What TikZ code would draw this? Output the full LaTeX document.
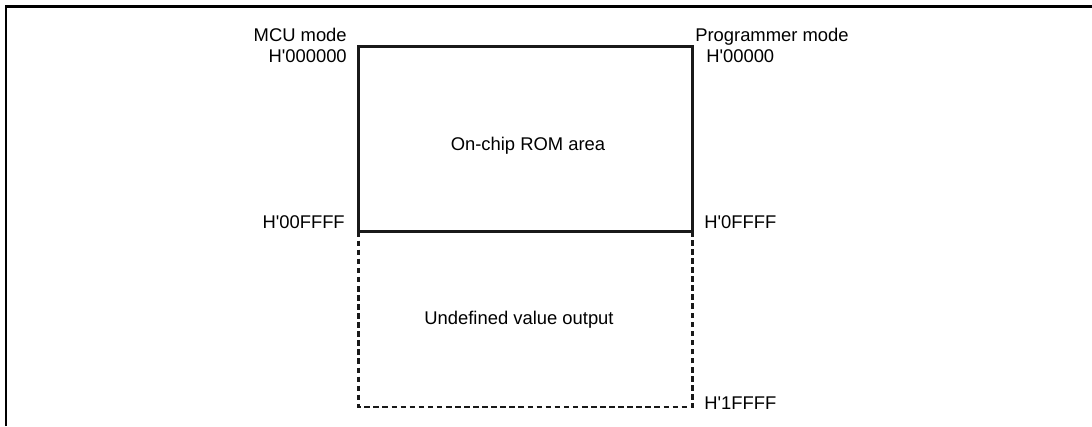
\documentclass[tikz,border=0pt]{standalone}
\usepackage{fontspec}
\setmainfont{Liberation Sans}
\usetikzlibrary{positioning}
\newcommand{\hq}{H\textquotesingle}

\begin{document}
\begin{tikzpicture}[x=0.75pt,y=-0.75pt,
  lbl/.style={inner sep=0pt,font=\fontsize{13.8}{16}\selectfont},
  edge/.style={line width=1.8pt,draw=black!90},
  undef/.style={edge,dash pattern=on 4.2pt off 2.6pt}]
\useasboundingbox (0,0) rectangle (1092,426);
\draw[line width=1.6pt] (6,426)--(6,6.5)--(1092,6.5);
\coordinate (romtl) at (358.5,46.5);
\coordinate (rombr) at (692.5,231.5);
\coordinate (undbl) at (358.5,407);
\coordinate (undbr) at (692.5,407);
\draw[edge] (romtl) rectangle (rombr);
\draw[undef] (romtl|-rombr)--(undbl)--(undbr)--(rombr);
% left column: MCU mode addresses
\node[lbl,anchor=base east] (mcu) at (347,41.5) {MCU mode};
\node[lbl,anchor=base east] (mcutop) at (347,62) {\hq000000};
\node[lbl,anchor=base east] (mcuend) at (345,228) {\hq00FFFF};
% right column: programmer mode addresses
\node[lbl,anchor=base west] (prg) at (695,41.5) {Programmer mode};
\node[lbl,anchor=base west] (prgtop) at (706,62) {\hq00000};
\node[lbl,anchor=base west] (prgend) at (704,228) {\hq0FFFF};
\node[lbl,anchor=base west] (prglast) at (704,409) {\hq1FFFF};
\node[lbl,anchor=base] (rom) at (528,150) {On-chip ROM area};
\node[lbl,anchor=base] (und) at (519,324) {Undefined value output};
\end{tikzpicture}
\end{document}
